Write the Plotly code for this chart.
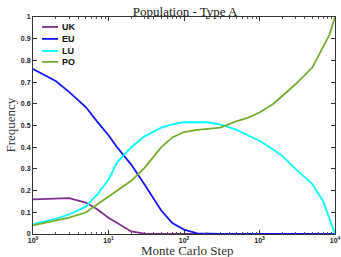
import plotly.graph_objects as go

steps = [1, 2, 3, 5, 7, 10, 13, 20, 30, 50, 70, 100, 150, 200, 300, 500, 700,
         1000, 1500, 2000, 3000, 5000, 7000, 8500, 10000]

uk = [0.160, 0.165, 0.165, 0.145, 0.115, 0.075, 0.050, 0.012, 0.002, 0.0, 0.0, 0.0,
      0.0, 0.0, 0.0, 0.0, 0.0, 0.0, 0.0, 0.0, 0.0, 0.0, 0.0, 0.0, 0.0]
eu = [0.760, 0.705, 0.655, 0.585, 0.520, 0.455, 0.400, 0.320, 0.228, 0.108, 0.050,
      0.020, 0.003, 0.001, 0.0, 0.0, 0.0, 0.0, 0.0, 0.0, 0.0, 0.0, 0.0, 0.0, 0.0]
lu = [0.045, 0.070, 0.090, 0.126, 0.180, 0.250, 0.330, 0.400, 0.450, 0.490, 0.505,
      0.515, 0.516, 0.515, 0.505, 0.480, 0.455, 0.430, 0.390, 0.360, 0.300, 0.230,
      0.150, 0.065, 0.0]
po = [0.040, 0.060, 0.075, 0.099, 0.135, 0.175, 0.200, 0.245, 0.305, 0.400, 0.445,
      0.470, 0.480, 0.485, 0.490, 0.520, 0.535, 0.560, 0.598, 0.636, 0.690, 0.767,
      0.860, 0.920, 1.0]

series = [("UK", uk, "#7E2F8E"), ("EU", eu, "#1414FF"),
          ("LU", lu, "#00FFFF"), ("PO", po, "#77AC30")]

xtickvals = [1, 10, 100, 1000, 10000]
xticktext = ["10<sup>0</sup>", "10<sup>1</sup>", "10<sup>2</sup>",
             "10<sup>3</sup>", "10<sup>4</sup>"]
ytickvals = [0, 0.1, 0.2, 0.3, 0.4, 0.5, 0.6, 0.7, 0.8, 0.9, 1]
yticktext = ["0", "0.1", "0.2", "0.3", "0.4", "0.5", "0.6", "0.7", "0.8", "0.9", "1"]
minor_x = [m * 10 ** d for d in range(4) for m in range(2, 10)]

fig = go.Figure()
for name, vals, col in series:
    fig.add_trace(go.Scatter(x=steps, y=vals, mode="lines", name=name,
                             line=dict(color=col, width=1.8), showlegend=False))

# manual legend (MATLAB-style compact legend)
leg_y = [0.954, 0.899, 0.843, 0.793]
for (name, vals, col), ly in zip(series, leg_y):
    fig.add_shape(type="line", xref="paper", yref="paper",
                  x0=0.030, x1=0.083, y0=ly, y1=ly,
                  line=dict(color=col, width=1.8))
    fig.add_annotation(text="<b>" + name + "</b>", xref="paper", yref="paper",
                       x=0.089, y=ly, xanchor="left", yanchor="middle",
                       showarrow=False,
                       font=dict(family="Liberation Sans", size=9, color="#111"))

# axis titles
fig.add_annotation(text="Monte Carlo Step", xref="paper", yref="paper",
                   x=0.51, y=-0.074, xanchor="center", yanchor="middle",
                   showarrow=False,
                   font=dict(family="Liberation Serif", size=13, color="#333"))
fig.add_annotation(text="Frequency", xref="paper", yref="paper",
                   x=-0.076, y=0.50, xanchor="center", yanchor="middle",
                   textangle=-90, showarrow=False,
                   font=dict(family="Liberation Serif", size=13, color="#333"))

tickfont = dict(family="Liberation Sans", size=7, color="#222", weight="bold")

fig.update_layout(
    width=341, height=257,
    margin=dict(l=33, r=6, t=17, b=23, autoexpand=False),
    paper_bgcolor="white", plot_bgcolor="white",
    title=dict(text="Population - Type A", x=0.543, xanchor="center", y=0.975,
               yanchor="top",
               font=dict(family="Liberation Serif", size=13, color="#222")),
    showlegend=False,
    xaxis=dict(type="log", range=[0, 4], tickvals=xtickvals, ticktext=xticktext,
               ticks="inside", ticklen=4, tickcolor="#333", showline=True,
               linecolor="#333", linewidth=1, mirror="allticks", showgrid=False,
               zeroline=False, tickfont=tickfont, automargin=False,
               minor=dict(tickvals=minor_x, ticks="inside", ticklen=2,
                          tickcolor="#555", showgrid=False)),
    yaxis=dict(range=[0, 1], tickvals=ytickvals, ticktext=yticktext,
               ticks="inside", ticklen=4, tickcolor="#333", showline=True,
               linecolor="#333", linewidth=1, mirror="allticks", showgrid=False,
               zeroline=False, tickfont=tickfont, automargin=False),
)

fig.write_html("out.html", config={"displayModeBar": False},
               post_script="document.body.style.margin='0';document.body.style.padding='0';")
